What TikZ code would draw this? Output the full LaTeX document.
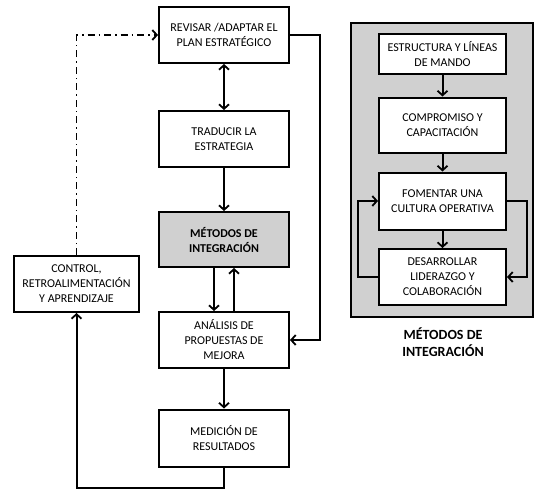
\documentclass[tikz,border=0pt]{standalone}
\usepackage{fontspec}
\setmainfont{Carlito}
\usetikzlibrary{arrows.meta}
\definecolor{panelgray}{RGB}{208,208,208}
\tikzset{
  tip/.tip={Straight Barb[length=4.5pt,width=10pt,line width=1.8pt]},
  box/.style={draw, line width=2pt, fill=white, align=center, inner sep=0pt,
    font=\fontsize{12}{15}\selectfont},
  link/.style={line width=2pt, -tip},
}
\begin{document}
\begin{tikzpicture}[x=1pt,y=-1pt]
\useasboundingbox (0,0) rectangle (534,490);

% main cycle
\node[box, minimum width=130, minimum height=56] (rev) at (224,35) {REVISAR /ADAPTAR EL\\PLAN ESTRATÉGICO};
\node[box, minimum width=130, minimum height=56] (tra) at (224,139) {TRADUCIR LA\\ESTRATEGIA};
\node[box, minimum width=130, minimum height=55, fill=panelgray, font=\fontsize{12}{15}\selectfont\bfseries] (met) at (224,239.5) {MÉTODOS DE\\INTEGRACIÓN};
\node[box, minimum width=130, minimum height=56] (ana) at (224,340) {ANÁLISIS DE\\PROPUESTAS DE\\MEJORA};
\node[box, minimum width=130, minimum height=57] (med) at (224,438) {MEDICIÓN DE\\RESULTADOS};
\node[box, minimum width=125, minimum height=56] (ctl) at (76.5,284) {CONTROL,\\RETROALIMENTACIÓN\\Y APRENDIZAJE};

\draw[link, tip-tip] (rev) -- (tra);
\draw[link] (tra) -- (met);
\draw[link] ([xshift=-10]met.south) -- ([xshift=-10]ana.north);
\draw[link] ([xshift=10]ana.north) -- ([xshift=10]met.south);
\draw[link] (ana) -- (med);
\draw[link] (med.south) -- ++(0,20) -| (ctl.south);
\draw[link, line width=1.6pt, dash pattern=on 7pt off 4pt on 1.5pt off 4pt] (ctl.north) |- (rev.west);
\draw[link] (rev.east) -- ++(30,0) |- (ana.east);

% integration methods panel
\fill[panelgray, draw=black, line width=2pt] (351,23) rectangle (533,317);
\node[box, minimum width=127, minimum height=40] (est) at (442.5,54) {ESTRUCTURA Y LÍNEAS\\DE MANDO};
\node[box, minimum width=127, minimum height=55] (com) at (442.5,125) {COMPROMISO Y\\CAPACITACIÓN};
\node[box, minimum width=127, minimum height=57] (fom) at (442.5,201) {FOMENTAR UNA\\CULTURA OPERATIVA};
\node[box, minimum width=127, minimum height=56] (des) at (442.5,277) {DESARROLLAR\\LIDERAZGO Y\\COLABORACIÓN};

\draw[link] (est) -- (com);
\draw[link] (com) -- (fom);
\draw[link] (fom) -- (des);
\draw[link] (des.west) -- ++(-20,0) |- (fom.west);
\draw[link] (fom.east) -- ++(20,0) |- (des.east);

\node[align=center, font=\fontsize{14}{17}\selectfont\bfseries] (cap) at (443,342) {MÉTODOS DE\\INTEGRACIÓN};
\end{tikzpicture}
\end{document}
